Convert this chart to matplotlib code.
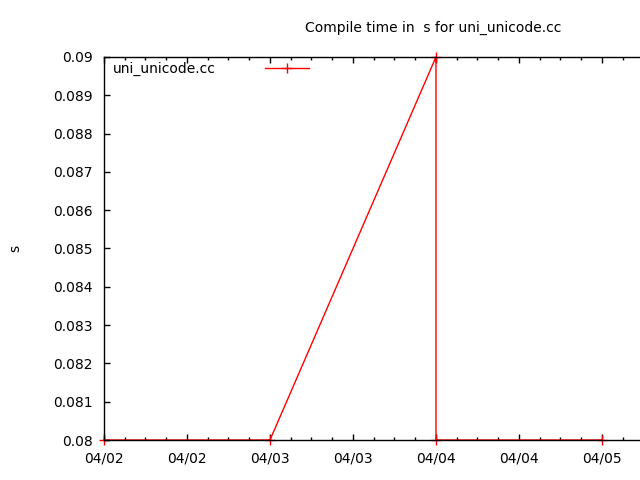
import matplotlib
matplotlib.use('Agg')
import matplotlib.pyplot as plt
import matplotlib.dates as mdates
from datetime import datetime

# data
dates = [datetime(2024, 4, 2, 0), datetime(2024, 4, 3, 0), datetime(2024, 4, 4, 0),
         datetime(2024, 4, 4, 0), datetime(2024, 4, 5, 0)]
times = [0.080, 0.080, 0.090, 0.080, 0.080]
label = 'uni_unicode.cc'

fig = plt.figure(figsize=(6.4, 4.8), dpi=100)
ax = fig.add_axes([104/640, 40/480, 536/640, 383/480])

# line sits under the border (like gnuplot), markers poke out
ax.plot(dates, times, color='red', lw=1, marker='+', ms=7, mew=1,
        clip_on=False, zorder=2)

ax.set_xlim(datetime(2024, 4, 2, 0), datetime(2024, 4, 5, 5, 30))
ax.set_ylim(0.08, 0.09)
ax.set_yticks([0.08 + i * 0.001 for i in range(11)])
ax.yaxis.set_major_formatter(matplotlib.ticker.FuncFormatter(
    lambda v, p: '%g' % round(v, 3)))

ax.xaxis.set_major_locator(mdates.HourLocator(byhour=[0, 12]))
ax.xaxis.set_minor_locator(mdates.HourLocator(byhour=range(0, 24, 3)))
ax.xaxis.set_major_formatter(mdates.DateFormatter('%m/%d'))

ax.spines['right'].set_visible(False)
for s in ['left', 'bottom', 'top']:
    ax.spines[s].set_linewidth(1)
    ax.spines[s].set_zorder(3)
ax.tick_params(axis='x', which='both', direction='in', top=True, bottom=True,
               labelsize=10, pad=8)
ax.tick_params(axis='x', which='major', length=4, width=1)
ax.tick_params(axis='x', which='minor', length=2.5, width=1)
ax.tick_params(axis='y', which='major', direction='in', length=4, width=1,
               right=False, labelsize=10, pad=8)

ax.set_ylabel('s', fontsize=10, labelpad=22)
fig.text(433/640, 1 - 28/480, 'Compile time in  s for uni_unicode.cc',
         ha='center', va='center', fontsize=10)

ax.legend([label], loc='upper left', frameon=False, fontsize=10,
          handlelength=3.2, handletextpad=3.5, markerfirst=False,
          bbox_to_anchor=(-0.006, 1.02))

fig.savefig('out.png', dpi=100)
